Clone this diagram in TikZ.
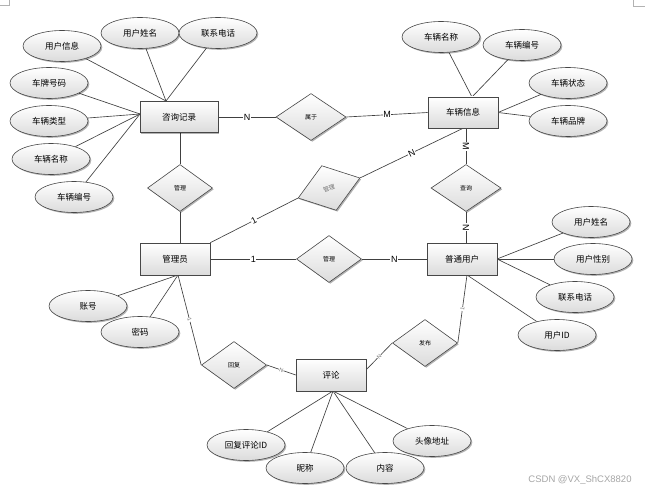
\documentclass[tikz,border=0pt]{standalone}
\usepackage{fontspec}
\newfontfamily\cjk{Noto Sans CJK SC}
\newfontfamily\lat{Liberation Sans}
\usetikzlibrary{shapes.geometric,shadows,backgrounds}
\begin{document}
\begin{tikzpicture}[x=1pt,y=-1pt,
 base/.style={draw=black!72, line width=0.6pt, top color=white, bottom color=black!14,
   drop shadow={shadow xshift=1.3pt,shadow yshift=-1.3pt,opacity=0.3,fill=black}},
 ent/.style={base, rectangle, minimum width=70pt, minimum height=32pt, inner sep=0pt,
   font=\cjk\fontsize{8.5}{9}\selectfont},
 attr/.style={base, ellipse, minimum width=78pt, minimum height=31pt, inner sep=0pt,
   font=\cjk\fontsize{8.5}{9}\selectfont},
 rel/.style={base, diamond, minimum width=65pt, minimum height=47pt, inner sep=0pt,
   font=\cjk\fontsize{6}{6}\selectfont},
 ln/.style={draw=black!75, line width=0.65pt},
 lab/.style={fill=white, inner sep=0.6pt, font=\lat\fontsize{9}{9}\selectfont},
 slab/.style={fill=white, inner sep=0.3pt, text=black!55, font=\lat\fontsize{5.5}{5.5}\selectfont},
 cornermark/.style={draw=black!30, line width=0.5pt}
]
\begin{scope}[on background layer]
\fill[white] (0,0) rectangle (645,492);
\end{scope}
\useasboundingbox (0,0) rectangle (645,492);
\draw[cornermark] (9,0) -- (9,5) -- (0,5);
\draw[cornermark] (633,0) -- (633,6) -- (645,6);

% entities
\node[ent, minimum width=78pt, minimum height=31pt] (zx) at (179,117) {咨询记录};
\node[ent, minimum height=31pt] (cl) at (463,112.5) {车辆信息};
\node[ent] (gly) at (175,259) {管理员};
\node[ent] (pt) at (462,259) {普通用户};
\node[ent] (pl) at (331,375) {评论};

% relations
\node[rel, minimum width=70pt] (r1) at (311,117) {属于};
\node[rel] (r2) at (180,188) {管理};
\node[rel, rotate=18, text=black!55] (r3) at (329,188) {管理};
\node[rel, minimum width=70pt] (r4) at (466,188) {查询};
\node[rel] (r5) at (329,259) {管理};
\node[rel] (r6) at (234,365) {回复};
\node[rel] (r7) at (425,343) {发布};

% attributes
\node[attr] (a1) at (62,46) {用户信息};
\node[attr] (a2) at (140,33) {用户姓名};
\node[attr] (a3) at (218,33) {联系电话};
\node[attr] (a4) at (49,83) {车牌号码};
\node[attr] (a5) at (49,121) {车辆类型};
\node[attr] (a6) at (51,159) {车辆名称};
\node[attr] (a7) at (74,197) {车辆编号};
\node[attr] (b1) at (441,37) {车辆名称};
\node[attr] (b2) at (522,45) {车辆编号};
\node[attr] (b3) at (568,83) {车辆状态};
\node[attr] (b4) at (568,121) {车辆品牌};
\node[attr] (c1) at (591,222) {用户姓名};
\node[attr] (c2) at (593,259) {用户性别};
\node[attr] (c3) at (575,297) {联系电话};
\node[attr] (c4) at (557,335) {用户ID};
\node[attr] (d1) at (88,306) {账号};
\node[attr] (d2) at (140,332) {密码};
\node[attr] (e1) at (246,445) {回复评论ID};
\node[attr] (e2) at (305,468) {昵称};
\node[attr] (e3) at (385,468) {内容};
\node[attr] (e4) at (432,441) {头像地址};

\node[font=\lat\fontsize{9.5}{10}\selectfont, text=black!35] (wm) at (580,480) {CSDN @VX\_ShCX8820};

% junction points
\coordinate (zxT) at (166,101);
\coordinate (zxL) at (140,114);
\coordinate (clT) at (472,97);
\coordinate (clR) at (498,112.5);
\coordinate (ptR) at (497,259);
\coordinate (ptB) at (467,275);
\coordinate (glyB) at (178,275);
\coordinate (plB) at (333,391);
\coordinate (plR) at (366,370);

\begin{scope}[on background layer]
\foreach \n in {a1,a2,a3} \draw[ln] (\n) -- (zxT);
\foreach \n in {a4,a5,a6,a7} \draw[ln] (\n) -- (zxL);
\foreach \n in {b1,b2} \draw[ln] (\n) -- (clT);
\foreach \n in {b3,b4} \draw[ln] (\n) -- (clR);
\foreach \n in {c1,c2,c3} \draw[ln] (\n) -- (ptR);
\draw[ln] (c4) -- (ptB);
\foreach \n in {d1,d2} \draw[ln] (\n) -- (glyB);
\foreach \n in {e1,e2,e3,e4} \draw[ln] (\n) -- (plB);

\draw[ln] (zx.east) -- node[lab]{N} (r1.west);
\draw[ln] (r1.east) -- node[lab]{M} (cl.west);
\draw[ln] (r2.north |- zx.south) -- (r2.north);
\draw[ln] (r2.south) -- (r2.south |- gly.north);
\draw[ln] (gly.north east) -- node[lab,sloped]{1} (r3.west);
\draw[ln] (r3.east) -- node[lab,sloped]{N} (cl.south);
\draw[ln] (r4.north |- cl.south) -- node[lab,sloped]{M} (r4.north);
\draw[ln] (r4.south) -- node[lab,sloped]{N} (r4.south |- pt.north);
\draw[ln] (gly.east) -- node[lab]{1} (r5.west);
\draw[ln] (r5.east) -- node[lab]{N} (pt.west);
\draw[ln] (glyB) -- node[slab,sloped]{1} (r6.west);
\draw[ln] (r6.east) -- node[slab,sloped]{N} (pl.west);
\draw[ln] (ptB) -- node[slab,sloped]{1} (r7.east);
\draw[ln] (r7.west) -- node[slab,sloped]{N} (plR);
\end{scope}
\end{tikzpicture}
\end{document}
